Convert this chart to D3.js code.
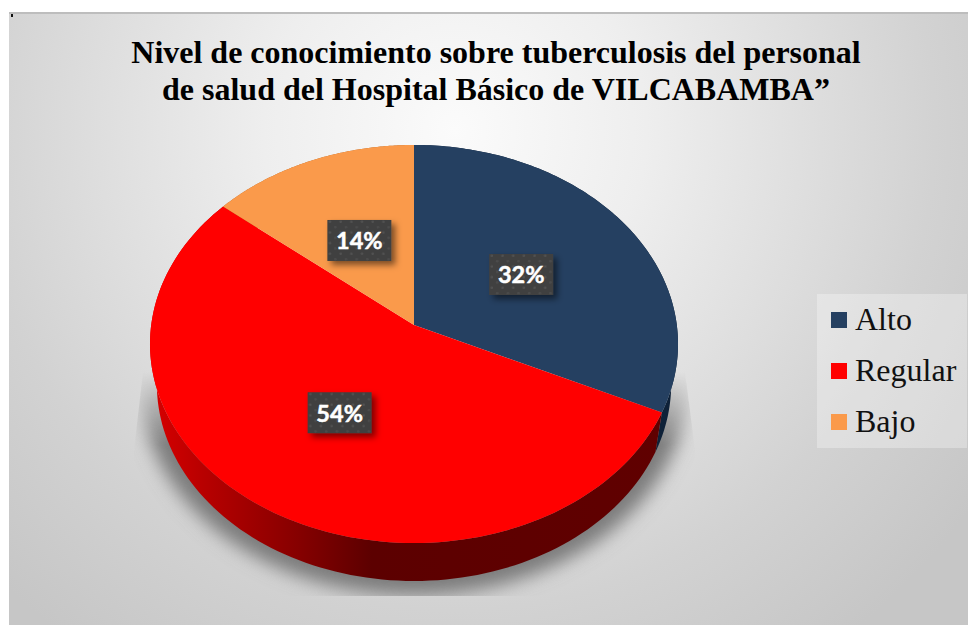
<!DOCTYPE html>
<html><head><meta charset="utf-8">
<script src="https://cdn.jsdelivr.net/npm/d3@7/dist/d3.min.js"></script>
<style>html,body{margin:0;padding:0;background:#fff}svg{display:block}</style>
</head><body><div id="c"></div>
<script>
const titleLines = ["Nivel de conocimiento sobre tuberculosis del personal", "de salud del Hospital Básico de VILCABAMBA”"];
const categories = ["Alto", "Regular", "Bajo"];
const values = [32, 54, 14];
const labels = ["32%", "54%", "14%"];
const colors = ["#254061", "#ff0000", "#fa9a4b"];
const wallColors = ["#0e2138", "url(#wallRed)", "#b06020"];

const W = 968, H = 625;
const svg = d3.select("#c").append("svg").attr("width", W).attr("height", H);
const defs = svg.append("defs");

const bg = defs.append("radialGradient").attr("id", "bg").attr("gradientUnits", "userSpaceOnUse")
  .attr("cx", 455).attr("cy", 130).attr("r", 640);
[[0, "#fbfbfb"], [0.3, "#eeeeee"], [0.75, "#d2d2d2"], [1, "#c6c6c6"]].forEach(s => bg.append("stop").attr("offset", s[0]).attr("stop-color", s[1]));

const wr = defs.append("linearGradient").attr("id", "wallRed").attr("gradientUnits", "userSpaceOnUse")
  .attr("x1", 150).attr("x2", 678).attr("y1", 0).attr("y2", 0);
[[0, "#d80000"], [0.1, "#b80000"], [0.28, "#860000"], [0.42, "#5c0000"], [1, "#600000"]].forEach(s => wr.append("stop").attr("offset", s[0]).attr("stop-color", s[1]));

const fade = defs.append("linearGradient").attr("id", "shadowFade").attr("gradientUnits", "userSpaceOnUse")
  .attr("x1", 0).attr("x2", 0).attr("y1", 372).attr("y2", 445);
[[0, "#000"], [1, "#fff"]].forEach(s => fade.append("stop").attr("offset", s[0]).attr("stop-color", s[1]));
defs.append("mask").attr("id", "shadowMask").attr("maskUnits", "userSpaceOnUse")
  .attr("x", 0).attr("y", 0).attr("width", W).attr("height", H)
  .append("rect").attr("width", W).attr("height", H).attr("fill", "url(#shadowFade)");

defs.append("filter").attr("id", "blur").attr("x", "-20%").attr("y", "-20%").attr("width", "140%").attr("height", "140%")
  .append("feGaussianBlur").attr("stdDeviation", 9);
const ds = defs.append("filter").attr("id", "boxShadow").attr("x", "-30%").attr("y", "-30%").attr("width", "170%").attr("height", "170%");
ds.append("feDropShadow").attr("dx", 4).attr("dy", 4).attr("stdDeviation", 3).attr("flood-color", "#000").attr("flood-opacity", 0.5);

const pat = defs.append("pattern").attr("id", "dots").attr("patternUnits", "userSpaceOnUse").attr("width", 10.67).attr("height", 10.67);
pat.append("rect").attr("width", 10.67).attr("height", 10.67).attr("fill", "#404040");
pat.append("circle").attr("cx", 2.7).attr("cy", 2.7).attr("r", 1.3).attr("fill", "#525252");
pat.append("circle").attr("cx", 8).attr("cy", 8).attr("r", 1.3).attr("fill", "#4c4c4c");

defs.append("clipPath").attr("id", "shadowClip").append("path")
  .attr("d", d3.line()([[143, 372], [134, 450], [134, 596], [695, 596], [695, 450], [685, 372]]));

// background panel
svg.append("rect").attr("x", 9).attr("y", 12).attr("width", W - 9).attr("height", H - 12).attr("fill", "url(#bg)");
svg.append("rect").attr("x", 9).attr("y", 12).attr("width", W - 9).attr("height", 2).attr("fill", "#bdbdbd");
svg.append("rect").attr("x", 11).attr("y", 14).attr("width", 2).attr("height", 3).attr("fill", "#111");

// perspective projection of a unit circle onto the tilted disc
const k = -0.0955, cx = 414;
const topRim = {a: 262.8, b: 197.2, cy: 325};
const lowRim = {a: 256, b: 195, cy: 365.4};
function proj(angle, r, p) {
  const x = r * Math.sin(angle), y = -r * Math.cos(angle), d = 1 + k * y;
  return [cx + p.a * x / d, p.cy + p.b * y / d];
}
const samples = (a0, a1) => d3.range(0, 121).map(i => a0 + (a1 - a0) * i / 120);
const line = d3.line();

const slices = d3.pie().sort(null).value(d => d)(values);

// ground shadow
svg.append("g").attr("clip-path", "url(#shadowClip)").append("g").attr("mask", "url(#shadowMask)").append("path")
  .attr("d", line(samples(0, 2 * Math.PI).map(t => proj(t, 1.06, lowRim))) + "Z")
  .attr("fill", "#7c7c7c").attr("filter", "url(#blur)");

// side walls
svg.append("g").selectAll("path").data(slices).join("path")
  .attr("d", d => {
    const s = samples(d.startAngle, d.endAngle);
    return line(s.map(t => proj(t, 1, topRim)).concat(s.slice().reverse().map(t => proj(t, 1, lowRim)))) + "Z";
  })
  .attr("fill", (d, i) => wallColors[i]);

// top faces
svg.append("g").selectAll("path").data(slices).join("path")
  .attr("d", d => {
    const s = samples(d.startAngle, d.endAngle);
    return line([proj(0, 0, topRim)].concat(s.map(t => proj(t, 1, topRim)))) + "Z";
  })
  .attr("fill", (d, i) => colors[i]);

// data labels
const bw = 64, bh = 41;
const lab = svg.append("g").selectAll("g").data(slices).join("g")
  .attr("transform", d => {
    const p = proj((d.startAngle + d.endAngle) / 2, 0.5, topRim);
    return `translate(${p[0] - 1},${p[1] + 1})`;
  });
lab.append("rect").attr("x", -bw / 2).attr("y", -bh / 2).attr("width", bw).attr("height", bh)
  .attr("fill", "url(#dots)").attr("filter", "url(#boxShadow)");
lab.append("text").attr("text-anchor", "middle").attr("y", 9)
  .attr("font-family", "Lato").attr("font-weight", 700).attr("font-size", 23.5).attr("fill", "#fff")
  .attr("stroke", "#fff").attr("stroke-width", 0.5)
  .text((d, i) => labels[i]);

// title
svg.append("g").selectAll("text").data(titleLines).join("text")
  .attr("x", 496).attr("y", (d, i) => 63 + i * 37)
  .attr("text-anchor", "middle").attr("font-family", "Liberation Serif").attr("font-weight", 700)
  .attr("font-size", 32).attr("fill", "#000").text(d => d);

// legend
svg.append("rect").attr("x", 817).attr("y", 294).attr("width", 150).attr("height", 154).attr("fill", "#fff").attr("opacity", 0.3);
const ly = d3.scalePoint().domain(categories).range([320, 422]);
const leg = svg.append("g").selectAll("g").data(categories).join("g").attr("transform", d => `translate(0,${ly(d)})`);
leg.append("rect").attr("x", 831).attr("y", -8).attr("width", 16).attr("height", 16).attr("fill", (d, i) => colors[i]);
leg.append("text").attr("x", 855).attr("y", 10).attr("font-family", "Liberation Serif").attr("font-size", 32).attr("fill", "#111").text(d => d);
</script></body></html>
